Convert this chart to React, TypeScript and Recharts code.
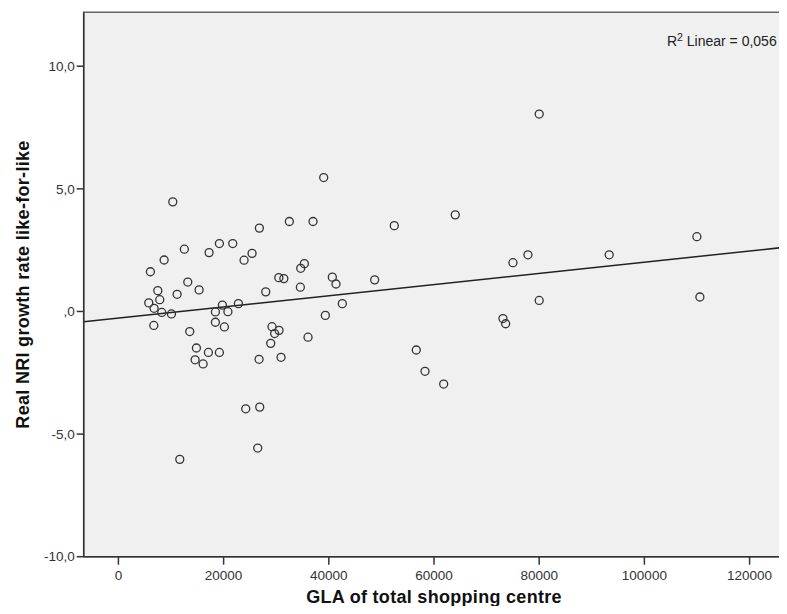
import { ScatterChart, Scatter, XAxis, YAxis, ReferenceArea, ReferenceLine } from 'recharts';

// Gross lettable area (sqm) per shopping centre
const GLA = [
  5770, 6080, 6780, 6730, 7490, 7860, 8240, 8690, 10080, 10340,
  11160, 11670, 12540, 13190, 13560, 14830, 14580, 15340, 16100, 17110,
  17240, 18440, 18440, 19200, 19200, 19770, 20150, 20820, 21740, 22810,
  23890, 24210, 25410, 26490, 26740, 26800, 26870, 28010, 28960, 29200,
  29700, 30540, 30500, 31450, 30920, 32500, 34590, 34660, 35350, 36050,
  37000, 39030, 39340, 40670, 41370, 42570, 48720, 52450, 56630, 58290,
  61840, 64040, 73110, 73620, 75010, 77860, 80000, 80000, 93310, 109980,
  110550,
];

// Real NRI like-for-like growth rate (%) for the same centres
const NRI_GROWTH = [
  0.35, 1.62, 0.13, -0.57, 0.85, 0.48, -0.04, 2.1, -0.1, 4.47,
  0.7, -6.03, 2.54, 1.2, -0.82, -1.49, -1.97, 0.88, -2.14, -1.67,
  2.4, -0.02, -0.44, 2.77, -1.67, 0.26, -0.63, -0.01, 2.77, 0.32,
  2.09, -3.97, 2.37, -5.57, -1.95, 3.4, -3.9, 0.8, -1.3, -0.62,
  -0.9, -0.77, 1.38, 1.34, -1.87, 3.67, 0.99, 1.76, 1.95, -1.05,
  3.67, 5.46, -0.16, 1.4, 1.12, 0.32, 1.29, 3.5, -1.57, -2.44,
  -2.96, 3.94, -0.29, -0.5, 1.99, 2.31, 8.05, 0.45, 2.31, 3.05,
  0.59,
];

const X_TICKS = [0, 20000, 40000, 60000, 80000, 100000, 120000];
const Y_TICKS = [-10, -5, 0, 5, 10];
const X_DOMAIN: [number, number] = [-6600, 126600];
const Y_DOMAIN: [number, number] = [-10, 12.2];

// ordinary least squares fit
const FIT_INTERCEPT = -0.27;
const FIT_SLOPE = 0.0000228;
const R_SQUARED = '0,056';

const points = GLA.map((x, i) => ({ x, y: NRI_GROWTH[i] }));
const fitAt = (x: number) => FIT_INTERCEPT + FIT_SLOPE * x;

// SPSS style: comma decimal, no leading zero
const spssDecimal = (v: number) =>
  v.toFixed(1).replace('.', ',').replace(/^(-?)0,/, '$1,');

const AXIS_COLOR = '#333';
const TICK_STYLE = { fill: '#333', fontSize: 13.5 };

function OpenCircle(props: { cx?: number; cy?: number }) {
  if (props.cx == null || props.cy == null) return null;
  return (
    <circle cx={props.cx} cy={props.cy} r={4} fill="none" stroke="#333" strokeWidth={1.3} />
  );
}

function XTitle({ viewBox }: { viewBox?: { x: number; y: number; width: number } }) {
  if (!viewBox) return null;
  return (
    <text
      x={viewBox.x + viewBox.width / 2}
      y={viewBox.y + 46}
      textAnchor="middle"
      fontSize={18}
      fontWeight="bold"
      letterSpacing={0.3}
      fill="#111"
    >
      GLA of total shopping centre
    </text>
  );
}

function YTitle({ viewBox }: { viewBox?: { x: number; y: number; height: number } }) {
  if (!viewBox) return null;
  const x = viewBox.x + 21;
  const y = viewBox.y + viewBox.height / 2;
  return (
    <text
      x={x}
      y={y}
      transform={`rotate(-90, ${x}, ${y})`}
      textAnchor="middle"
      fontSize={18}
      fontWeight="bold"
      letterSpacing={0.3}
      fill="#111"
    >
      Real NRI growth rate like-for-like
    </text>
  );
}

export default function App() {
  return (
    <div
      style={{
        position: 'relative',
        width: 779,
        height: 598,
        fontFamily: '"Liberation Sans", Arial, sans-serif',
      }}
    >
      <ScatterChart
        width={779}
        height={598}
        margin={{ top: 4.3, right: 2.7, bottom: 0, left: 0 }}
      >
        <ReferenceArea
          x1={X_DOMAIN[0]}
          x2={X_DOMAIN[1]}
          y1={Y_DOMAIN[0]}
          y2={Y_DOMAIN[1]}
          fill="#f0f0f0"
          fillOpacity={1}
          stroke="#666"
          strokeWidth={1.5}
          ifOverflow="visible"
        />
        <XAxis
          type="number"
          dataKey="x"
          domain={X_DOMAIN}
          ticks={X_TICKS}
          allowDataOverflow
          height={49.3}
          tickSize={8}
          tickMargin={6}
          tick={TICK_STYLE}
          axisLine={{ stroke: AXIS_COLOR, strokeWidth: 1.5 }}
          tickLine={{ stroke: AXIS_COLOR, strokeWidth: 1.5 }}
          label={{ content: <XTitle /> }}
        />
        <YAxis
          type="number"
          dataKey="y"
          domain={Y_DOMAIN}
          ticks={Y_TICKS}
          allowDataOverflow
          width={75.7}
          tickSize={7}
          tickMargin={2}
          tick={TICK_STYLE}
          tickFormatter={spssDecimal}
          axisLine={{ stroke: AXIS_COLOR, strokeWidth: 1.5 }}
          tickLine={{ stroke: AXIS_COLOR, strokeWidth: 1.5 }}
          label={{ content: <YTitle /> }}
        />
        <ReferenceLine
          segment={[
            { x: X_DOMAIN[0], y: fitAt(X_DOMAIN[0]) },
            { x: X_DOMAIN[1], y: fitAt(X_DOMAIN[1]) },
          ]}
          stroke="#222"
          strokeWidth={1.5}
          ifOverflow="visible"
        />
        <Scatter data={points} shape={<OpenCircle />} isAnimationActive={false} />
      </ScatterChart>
      <div
        style={{
          position: 'absolute',
          right: 10.3,
          top: 26,
          fontSize: 14,
          lineHeight: 1,
          color: '#222',
          whiteSpace: 'nowrap',
        }}
      >
        R<sup style={{ fontSize: '75%', lineHeight: 0, verticalAlign: '0.5em' }}>2</sup> Linear = {R_SQUARED}
      </div>
    </div>
  );
}
